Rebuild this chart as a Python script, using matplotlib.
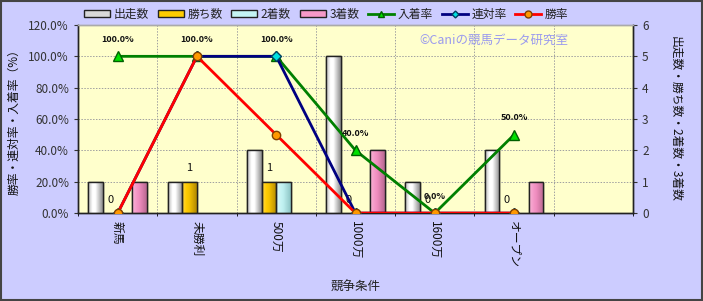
import matplotlib
matplotlib.use("Agg")
import matplotlib.pyplot as plt
import numpy as np
from matplotlib.patches import Rectangle
from matplotlib.lines import Line2D
from matplotlib.colors import LinearSegmentedColormap

plt.rcParams['font.family'] = ['Noto Sans CJK JP', 'DejaVu Sans']

categories = ['新馬', '未勝利', '500万', '1000万', '1600万', 'オープン', '']
starts = [1, 1, 2, 5, 1, 2, 0]
wins = [0, 1, 1, 0, 0, 0, None]
seconds = [0, 0, 1, 0, 0, 0, None]
thirds = [1, 0, 0, 2, 0, 1, None]
place_rate = [100.0, 100.0, 100.0, 40.0, 0.0, 50.0]
rentai_rate = [0.0, 100.0, 100.0, 0.0, 0.0, 0.0]
win_rate = [0.0, 100.0, 50.0, 0.0, 0.0, 0.0]

bar_names = ['出走数', '勝ち数', '2着数', '3着数']
bar_colors = ['#D8D8D8', '#FFCC00', '#C4F4F4', '#F599C8']
line_names = ['入着率', '連対率', '勝率']

# gradient stops (left, highlight, right) per series
grad_stops = [
    ['#B8B8B8', '#FFFFFF', '#FFFFFF', '#8C8C8C'],
    ['#FFD84A', '#FFCC00', '#F2C000', '#B08800'],
    ['#DDFAFA', '#C8F4F4', '#BDEEEE', '#8CC4C4'],
    ['#F8B4D6', '#F599C8', '#EE8CBE', '#B86890'],
]

fig = plt.figure(figsize=(7.03, 3.01), dpi=100)
fig.patch.set_facecolor('#CCCCFF')
fig.add_artist(Rectangle((0.0015, 0.003), 0.997, 0.994, transform=fig.transFigure,
                         fill=False, edgecolor='#444444', lw=1.5))

ax = fig.add_axes([0.111, 0.292, 0.7894, 0.625])
ax2 = ax.twinx()
ax.set_zorder(ax2.get_zorder() + 1)
ax.patch.set_visible(False)
ax2.patch.set_visible(True)
ax2.set_facecolor('#FFFFCC')
ax2.xaxis.set_visible(True)

n = len(categories)
x = np.arange(n)
w = 0.185
series = [starts, wins, seconds, thirds]
grad = np.linspace(0, 1, 64).reshape(1, -1)
for i, (vals, col) in enumerate(zip(series, bar_colors)):
    xs = [xi + (i - 1.5) * w for xi, v in zip(x, vals) if v]
    vs = [v for v in vals if v]
    st = grad_stops[i]
    cmap = LinearSegmentedColormap.from_list(
        f'g{i}', [(0, st[0]), (0.3, st[1]), (0.5, st[2]), (1.0, st[3])])
    bars = ax2.bar(xs, vs, width=w, color=col, edgecolor='#222222', lw=1.0, zorder=3)
    for b in bars:
        im = ax2.imshow(grad, extent=[b.get_x(), b.get_x() + b.get_width(), 0, b.get_height()],
                        aspect='auto', cmap=cmap, zorder=3.5, interpolation='bilinear')
        im.set_clip_path(b)
        ax2.add_patch(Rectangle((b.get_x(), 0), b.get_width(), b.get_height(), fill=False,
                                edgecolor='#222222', lw=1.0, zorder=4))

# labels for wins
for xi, v in zip(x, wins):
    if v is None:
        continue
    ax2.annotate(str(v), (xi - 0.5 * w, v), xytext=(0, 6), textcoords='offset points',
                 ha='center', va='bottom', fontsize=8, color='#111111', zorder=6)

ax2.set_xlim(-0.5, n - 0.5)
ax2.set_ylim(0, 6)
ax2.set_yticks(range(0, 7))
ax2.tick_params(axis='y', labelsize=8.5, colors='#333333', length=3)
ax2.set_ylabel('出走数・勝ち数・2着数・3着数', rotation=270, labelpad=24, fontsize=8.5,
               color='#111111')
ax2.set_xticks([])
ax2.set_xticks(np.arange(-0.5, n, 1.0), minor=True)
ax2.tick_params(axis='x', which='both', length=0, labelbottom=False)

xl = x[:6]
ax.plot(xl, np.array(place_rate) / 100, color='#008000', lw=2, marker='^', ms=7,
        mfc='#00E000', mec='#006000', zorder=5)
ax.plot(xl, np.array(rentai_rate) / 100, color='#000080', lw=2, marker='D', ms=5,
        mfc='#00E0E0', mec='#004060', zorder=6)
ax.plot(xl, np.array(win_rate) / 100, color='#FF0000', lw=2, marker='o', ms=6,
        mfc='#FF9900', mec='#804000', zorder=7)

for xi, v in zip(xl, place_rate):
    ax.annotate(f'{v:.1f}%', (xi, v / 100), xytext=(0, 9), textcoords='offset points',
                ha='center', va='bottom', fontsize=6.5, fontweight='bold',
                color='#111111', zorder=8)

ax.set_xlim(-0.5, n - 0.5)
ax.set_ylim(0, 1.2)
ax.set_yticks(np.arange(0, 1.21, 0.2))
ax.set_yticklabels([f'{v * 100:.1f}%' for v in np.arange(0, 1.21, 0.2)])
ax.tick_params(axis='y', labelsize=8.5, colors='#333333', length=3)
ax.set_xticks(x[:6])
ax.set_xticklabels(categories[:6], rotation=270, fontsize=8.5, color='#111111')
ax.tick_params(axis='x', length=0, pad=6)
ax.set_xlabel('競争条件', fontsize=9, color='#222222', labelpad=9)
ax.set_ylabel('勝率・連対率・入着率（%）', fontsize=8.5, color='#111111', labelpad=6)

ax2.set_axisbelow(True)
ax2.grid(axis='y', color='#A0A0A0', ls=(0, (1.5, 1.5)), lw=0.7)
ax2.grid(axis='x', which='minor', color='#A0A0A0', ls=(0, (1.5, 1.5)), lw=0.7)
for a in (ax, ax2):
    for s in a.spines.values():
        s.set_color('#222222')
        s.set_linewidth(1.0)
    a.spines['top'].set_color('#AAAAAA')

ax.text(0.75, 0.92, '©Caniの競馬データ研究室', transform=ax.transAxes, ha='center',
        va='center', fontsize=9, color='#9A9AEE', zorder=9)

handles = [Rectangle((0, 0), 1, 1, facecolor=c, edgecolor='#222222', lw=1.0) for c in bar_colors]
handles += [
    Line2D([], [], color='#008000', lw=2, marker='^', ms=5, mfc='#00E000', mec='#006000'),
    Line2D([], [], color='#000080', lw=2, marker='D', ms=3.5, mfc='#00E0E0', mec='#004060'),
    Line2D([], [], color='#FF0000', lw=2, marker='o', ms=5, mfc='#FF9900', mec='#804000'),
]
fig.legend(handles, bar_names + line_names, loc='upper center', bbox_to_anchor=(0.464, 1.01),
           ncol=7, frameon=False, fontsize=8.5, handlelength=2.2, handleheight=0.6,
           handletextpad=0.3, columnspacing=0.75, labelcolor='#222222')

fig.savefig('out.png', dpi=100, facecolor=fig.get_facecolor())
